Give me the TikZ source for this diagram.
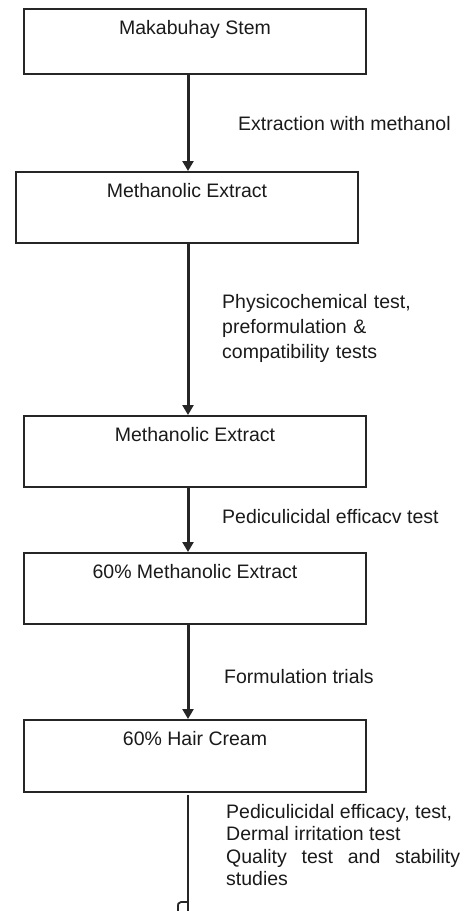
\documentclass[tikz,border=0pt]{standalone}
\usepackage{fontspec}
\setmainfont{Liberation Sans}
\usetikzlibrary{arrows.meta}
\definecolor{trazo}{HTML}{262626}
\definecolor{letra}{HTML}{1A1A1A}
\tikzset{
  caja/.style={draw=trazo, line width=2.3pt, minimum width=342pt, inner xsep=0pt,
    inner ysep=0pt, text height=25pt, text=letra, anchor=north,
    font=\fontsize{19.5}{25}\selectfont},
  flecha/.style={draw=trazo, line width=3pt, -{Triangle[width=11pt,length=10pt]}},
  linea/.style={draw=trazo, line width=1.8pt},
  rotulo/.style={anchor=base west, text=letra, align=left, inner sep=0pt,
    font=\fontsize{19.5}{25}\selectfont},
}
\begin{document}
\begin{tikzpicture}[x=1pt,y=-1pt]
            \useasboundingbox (0,0) rectangle (465,911);
            \coordinate (eje) at (188,0); % eje de las flechas
            % cajas
            \node[caja, text depth=40pt] (tallo) at (195,8) {Makabuhay Stem};
            \node[caja, text depth=46pt] (extracto) at (187,171) {Methanolic Extract};
            \node[caja, text depth=46pt] (extractob) at (195,415) {Methanolic Extract};
            \node[caja, text depth=46pt] (sesenta) at (195,552) {60\% Methanolic Extract};
            \node[caja, text depth=47pt] (crema) at (195,719) {60\% Hair Cream};
            % flechas
            \draw[flecha] (tallo.south -| eje) -- (extracto.north -| eje);
            \draw[flecha] (extracto.south -| eje) -- (extractob.north -| eje);
            \draw[flecha] (extractob.south -| eje) -- (sesenta.north -| eje);
            \draw[flecha] (sesenta.south -| eje) -- (crema.north -| eje);
            % rotulos
            \node[rotulo] (paso1) at (238,130) {Extraction with methanol};
            \node[rotulo, text width=220pt] (paso2) at (222,308) {Physicochemical test,\\preformulation \&\\compatibility tests};
            \node[rotulo] (paso3) at (222,523) {Pediculicidal efficacv test};
            \node[rotulo] (paso4) at (224,683) {Formulation trials};
            \node[rotulo, text width=234pt, align=justify,
              font=\fontsize{19.5}{22.5}\selectfont] (paso5) at (226,818)
              {Pediculicidal efficacy, test,\\Dermal irritation test\\Quality test and stability studies};
            % linea final
            \coordinate (ini) at (188,795);
            \coordinate (fin) at (188,911);
            \draw[linea] (ini) -- (fin);
            \draw[linea] (188,902) -- (181,902) .. controls (178,902) and (178,904) .. (178,908) -- (178,911);
\end{tikzpicture}
\end{document}
